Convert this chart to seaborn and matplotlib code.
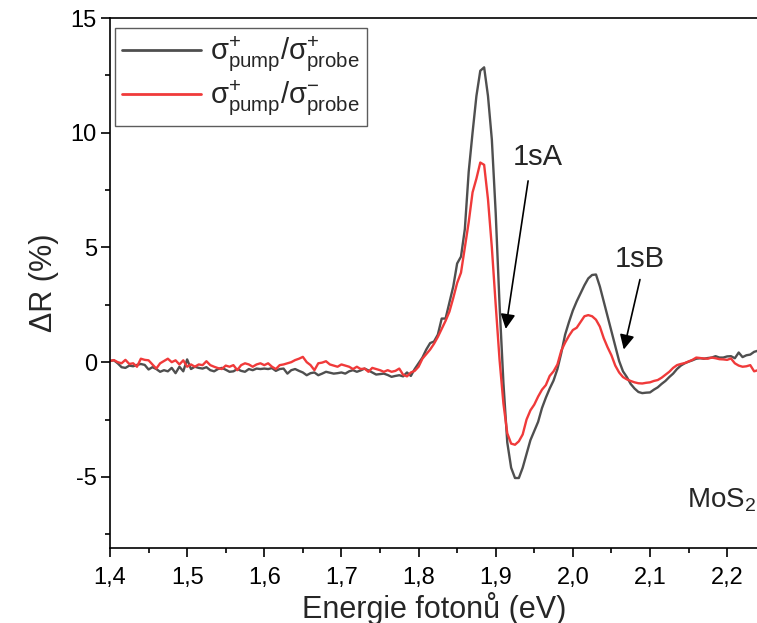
import numpy as np
import pandas as pd
import matplotlib
matplotlib.use("Agg")
import matplotlib.pyplot as plt
from matplotlib.ticker import MultipleLocator, FuncFormatter
import seaborn as sns

# Photon energy grid (eV), 5 meV step
energy = np.round(np.arange(1.400, 2.2401, 0.005), 3)

# Differential reflectance dR (%) for co-circular pump/probe
dr_co = [
    0.05, 0.08, -0.05, -0.22, -0.25, -0.15, -0.18, -0.12, -0.08, -0.12,
    -0.32, -0.22, -0.30, -0.42, -0.35, -0.40, -0.25, -0.48, -0.20, -0.40,
    0.12, -0.30, -0.20, -0.25, -0.28, -0.22, -0.35, -0.40, -0.30, -0.25,
    -0.33, -0.42, -0.40, -0.30, -0.38, -0.42, -0.30, -0.35, -0.28, -0.30,
    -0.28, -0.30, -0.26, -0.38, -0.30, -0.28, -0.50, -0.35, -0.30, -0.38,
    -0.45, -0.57, -0.48, -0.45, -0.57, -0.50, -0.42, -0.46, -0.50, -0.48,
    -0.45, -0.50, -0.40, -0.35, -0.42, -0.36, -0.28, -0.36, -0.45, -0.54,
    -0.52, -0.50, -0.56, -0.64, -0.60, -0.57, -0.62, -0.45, -0.60, -0.30,
    -0.05, 0.20, 0.55, 0.83, 0.90, 1.20, 1.90, 1.90, 2.60, 3.30,
    4.30, 4.60, 5.80, 8.30, 10.0, 11.6, 12.7, 12.85, 11.6, 9.70,
    6.50, 2.50, -0.90, -3.50, -4.60, -5.05, -5.05, -4.60, -4.00, -3.40,
    -3.00, -2.60, -2.00, -1.55, -1.15, -0.80, -0.30, 0.40, 1.20, 1.75,
    2.25, 2.65, 3.00, 3.35, 3.65, 3.80, 3.82, 3.30, 2.65, 2.00,
    1.35, 0.70, 0.05, -0.40, -0.65, -0.95, -1.15, -1.30, -1.35, -1.33,
    -1.32, -1.20, -1.10, -0.95, -0.82, -0.65, -0.50, -0.30, -0.15, -0.05,
    0.02, 0.08, 0.15, 0.17, 0.15, 0.18, 0.20, 0.26, 0.20, 0.20,
    0.25, 0.26, 0.17, 0.42, 0.22, 0.30, 0.33, 0.45, 0.50,
]

# Differential reflectance dR (%) for counter-circular pump/probe
dr_counter = [
    0.05, 0.09, 0.00, -0.05, 0.10, -0.08, -0.05, -0.20, 0.15, 0.10,
    0.08, -0.10, -0.28, -0.05, 0.05, 0.15, 0.00, 0.08, -0.10, 0.08,
    -0.20, -0.10, -0.20, -0.10, -0.13, 0.04, -0.13, -0.20, -0.26, -0.30,
    -0.15, -0.20, -0.13, -0.35, -0.13, -0.05, -0.10, -0.20, -0.10, -0.05,
    -0.13, -0.05, -0.20, -0.30, -0.13, -0.10, -0.05, 0.00, 0.09, 0.15,
    0.23, 0.00, -0.13, -0.35, -0.05, -0.02, 0.04, -0.10, -0.15, -0.20,
    -0.10, -0.15, -0.20, -0.30, -0.20, -0.30, -0.28, -0.42, -0.25, -0.30,
    -0.35, -0.42, -0.35, -0.42, -0.38, -0.28, -0.55, -0.62, -0.45, -0.38,
    -0.20, 0.15, 0.35, 0.55, 0.80, 1.10, 1.45, 1.80, 2.20, 2.80,
    3.45, 3.90, 5.00, 6.10, 7.40, 8.00, 8.70, 8.60, 7.10, 5.00,
    2.50, 0.10, -1.80, -3.10, -3.55, -3.60, -3.45, -3.15, -2.50, -2.10,
    -1.85, -1.50, -1.20, -1.00, -0.60, -0.40, -0.10, 0.50, 0.85, 1.15,
    1.40, 1.50, 1.75, 2.00, 2.05, 2.00, 1.85, 1.55, 1.05, 0.65,
    0.30, -0.15, -0.45, -0.65, -0.75, -0.82, -0.88, -0.92, -0.93, -0.90,
    -0.88, -0.82, -0.78, -0.68, -0.55, -0.42, -0.25, -0.13, -0.08, -0.04,
    0.03, 0.10, 0.20, 0.18, 0.16, 0.15, 0.20, 0.17, 0.13, 0.12,
    0.10, 0.16, -0.05, -0.15, -0.20, -0.18, -0.13, -0.40, -0.35,
]

series_labels = [
    r"$\mathrm{σ}^{+}_{\mathrm{pump}}/\mathrm{σ}^{+}_{\mathrm{probe}}$",
    r"$\mathrm{σ}^{+}_{\mathrm{pump}}/\mathrm{σ}^{-}_{\mathrm{probe}}$",
]
series_colors = ["#4f4f4f", "#f03a3a"]

df = pd.concat([
    pd.DataFrame({"E": energy, "dR": dr_co, "config": series_labels[0]}),
    pd.DataFrame({"E": energy, "dR": dr_counter, "config": series_labels[1]}),
], ignore_index=True)

sns.set_theme(style="ticks")
plt.rcParams["font.family"] = ["Liberation Sans", "DejaVu Sans"]
plt.rcParams["mathtext.fontset"] = "custom"
plt.rcParams["mathtext.rm"] = "Liberation Sans"
plt.rcParams["mathtext.it"] = "Liberation Sans:italic"
plt.rcParams["mathtext.sf"] = "Liberation Sans"

fig = plt.figure(figsize=(7.57, 6.23), dpi=100)
ax = fig.add_axes([0.1453, 0.1204, 0.8560, 0.8507])

sns.lineplot(data=df, x="E", y="dR", hue="config",
             palette=dict(zip(series_labels, series_colors)),
             linewidth=1.7, ax=ax, sort=False)

ax.set_xlim(1.4, 2.24)
ax.set_ylim(-8.1, 15)
ax.xaxis.set_major_locator(MultipleLocator(0.1))
ax.xaxis.set_minor_locator(MultipleLocator(0.05))
ax.yaxis.set_major_locator(MultipleLocator(5))
ax.yaxis.set_minor_locator(MultipleLocator(2.5))
ax.xaxis.set_major_formatter(FuncFormatter(lambda v, p: f"{v:.1f}".replace(".", ",")))
ax.yaxis.set_major_formatter(FuncFormatter(lambda v, p: f"{v:g}"))

for s in ["left", "bottom", "top"]:
    ax.spines[s].set_linewidth(1.2)
    ax.spines[s].set_color("black")
ax.spines["right"].set_visible(False)

ax.tick_params(axis="both", which="major", direction="out", length=6.5,
               width=1.2, labelsize=17, color="black", labelcolor="black")
ax.tick_params(axis="both", which="minor", direction="out", length=3.5,
               width=1.2, color="black")
ax.tick_params(axis="x", pad=7)
ax.tick_params(axis="y", pad=3)

ax.set_xlabel("Energie fotonů (eV)", fontsize=22, labelpad=2)
ax.set_ylabel("ΔR (%)", fontsize=22, labelpad=8)

leg = ax.legend(loc="upper left", bbox_to_anchor=(0.008, 0.982), fontsize=21,
                frameon=True, fancybox=False, handlelength=2.7,
                borderpad=0.25, labelspacing=0.15, handletextpad=0.3,
                borderaxespad=0.0)
leg.get_frame().set_edgecolor("#333333")
leg.get_frame().set_linewidth(1.0)
for line in leg.get_lines():
    line.set_linewidth(2.0)

arrow = dict(arrowstyle="-|>", color="black", lw=1.2, mutation_scale=22,
             shrinkA=0, shrinkB=0)
ax.annotate("", xy=(1.913, 1.45), xytext=(1.942, 7.9), arrowprops=arrow)
ax.text(1.955, 8.95, "1sA", fontsize=21, ha="center", va="center")
ax.annotate("", xy=(2.066, 0.55), xytext=(2.087, 3.6), arrowprops=arrow)
ax.text(2.087, 4.5, "1sB", fontsize=21, ha="center", va="center")

ax.text(2.238, -6.0, r"MoS$_2$", fontsize=20, ha="right", va="center")

fig.savefig("out.png", dpi=100)
